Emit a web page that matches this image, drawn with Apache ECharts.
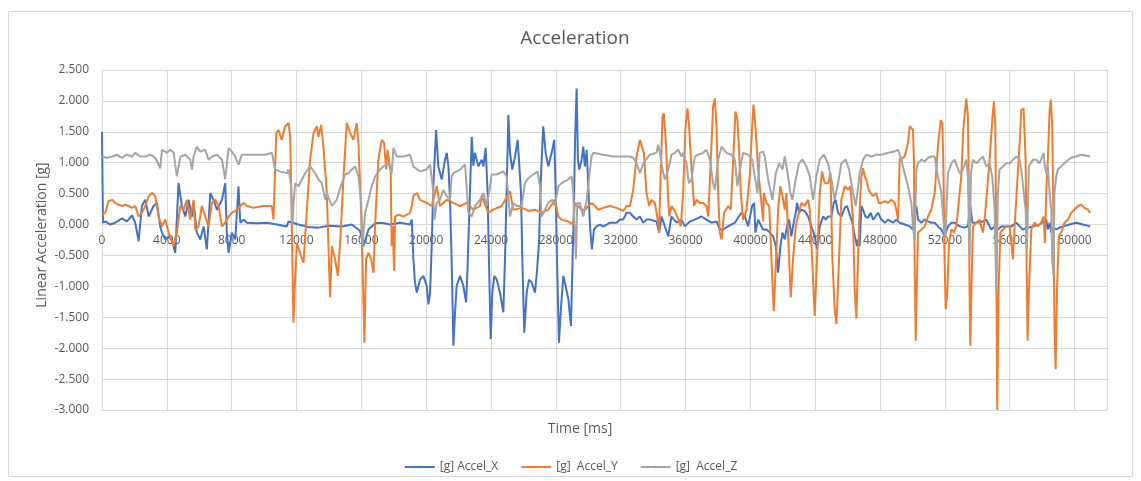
<!DOCTYPE html>
<html>
<head>
<meta charset="utf-8">
<script src="https://cdn.jsdelivr.net/npm/echarts@6/dist/echarts.min.js"></script>
<style>html,body{margin:0;padding:0;background:#fff;}#c{width:1141px;height:481px;}</style>
</head>
<body>
<div id="c"></div>
<script>
// Time [ms], acceleration [g] pairs
const accelX = [[0,1.50],[60,0.03],[200,0.05],[510,0.00],[820,0.03],[1230,0.10],[1540,0.05],[1850,0.15],[2050,0.03],[2260,-0.27],[2460,0.30],[2670,0.40],[2880,0.13],[3180,0.30],[3390,0.35],[3590,-0.03],[3700,-0.13],[3900,-0.24],[4110,-0.20],[4310,-0.24],[4520,-0.46],[4720,0.67],[4930,0.30],[5140,0.13],[5340,0.40],[5550,0.13],[5650,0.35],[5850,-0.13],[6060,-0.24],[6270,-0.03],[6470,-0.40],[6680,0.51],[6880,0.40],[7090,0.24],[7400,0.40],[7600,0.67],[7700,-0.13],[7810,-0.46],[8010,-0.13],[8220,-0.24],[8420,0.62],[8530,0.03],[8730,0.08],[8940,0.03],[9550,0.02],[10170,0.03],[10790,0.00],[11400,-0.03],[11500,0.05],[12120,0.00],[12740,-0.04],[13350,-0.05],[13970,-0.02],[14790,-0.03],[15410,0.00],[15920,-0.10],[16130,-0.35],[16440,-0.08],[16850,0.02],[17260,0.03],[17770,0.00],[18390,0.03],[19000,0.00],[19110,0.08],[19210,-0.56],[19310,-0.94],[19420,-1.10],[19620,-0.89],[19830,-0.83],[20030,-0.99],[20140,-1.29],[20240,-1.10],[20340,-0.35],[20440,0.62],[20610,1.53],[20750,0.94],[20960,0.73],[21160,1.05],[21270,1.16],[21370,0.94],[21470,0.40],[21570,-0.56],[21680,-1.96],[21780,-1.42],[21880,-0.99],[22090,-0.83],[22290,-0.99],[22460,-1.26],[22540,-0.78],[22700,0.51],[22810,1.42],[22910,0.95],[23010,1.16],[23220,0.94],[23420,1.05],[23530,0.94],[23670,1.24],[23790,0.51],[23870,-0.56],[23980,-1.85],[24080,-1.10],[24200,-0.83],[24350,-0.89],[24550,-1.10],[24760,-1.42],[24860,-0.56],[24960,0.51],[25070,1.77],[25170,1.16],[25310,0.89],[25480,1.10],[25640,1.37],[25720,1.05],[25850,0.51],[25930,-0.56],[26050,-1.75],[26200,-1.10],[26340,-0.89],[26510,-0.94],[26710,-1.10],[26810,-0.83],[26960,-0.30],[27080,0.78],[27220,1.59],[27370,1.16],[27530,0.94],[27740,1.16],[27900,1.37],[27980,0.62],[28070,-0.56],[28190,-1.91],[28310,-1.37],[28460,-0.83],[28600,-0.99],[28770,-1.21],[28930,-1.64],[29030,-0.56],[29110,0.24],[29180,1.32],[29280,2.20],[29360,1.05],[29440,0.89],[29590,1.05],[29690,1.26],[29790,0.94],[29900,1.21],[30000,0.62],[30100,0.00],[30220,-0.40],[30350,-0.08],[30510,-0.03],[30720,0.00],[30920,-0.03],[31130,0.00],[31330,0.03],[31740,0.03],[31950,0.08],[32160,0.08],[32360,0.19],[32570,0.19],[32770,0.13],[32980,0.08],[33180,0.13],[33390,0.03],[33590,0.08],[33800,0.08],[34210,0.05],[34370,-0.13],[34520,0.13],[34720,-0.03],[34930,-0.19],[35130,0.13],[35440,0.03],[35750,0.08],[35960,-0.03],[36260,0.05],[36570,0.08],[36980,0.13],[37290,0.08],[37600,0.03],[37910,0.05],[38110,-0.08],[38320,-0.08],[38630,-0.03],[39040,0.03],[39290,0.13],[39450,0.19],[39660,0.13],[39860,-0.03],[40110,0.30],[40230,0.35],[40310,-0.13],[40480,0.08],[40680,-0.03],[40790,-0.08],[40990,-0.08],[41200,-0.13],[41400,-0.19],[41570,-0.35],[41710,-0.78],[41850,-0.35],[41980,-0.13],[42120,-0.24],[42260,-0.03],[42390,0.08],[42530,-0.19],[42630,-0.03],[42800,0.19],[42880,0.35],[43000,0.19],[43150,0.24],[43350,0.22],[43560,0.13],[43760,-0.03],[43970,-0.19],[44110,-0.40],[44280,-0.03],[44480,0.13],[44650,0.08],[44790,0.13],[45000,0.13],[45140,0.35],[45260,0.40],[45410,0.19],[45610,0.13],[45820,0.27],[45960,0.30],[46090,0.19],[46290,0.03],[46440,-0.19],[46580,-0.35],[46640,-0.24],[46740,-0.35],[46850,0.30],[46950,0.24],[47090,0.13],[47260,0.11],[47420,0.19],[47570,0.08],[47710,0.13],[47870,0.19],[48080,0.08],[48290,0.03],[48490,0.08],[48800,0.03],[49000,0.08],[49210,0.03],[49520,0.00],[49830,-0.03],[50030,-0.08],[50130,0.13],[50240,0.30],[50340,0.08],[50550,0.03],[50750,0.08],[50960,0.05],[51160,0.03],[51370,0.03],[51570,-0.03],[51780,-0.08],[51980,-0.19],[52190,-0.03],[52400,0.03],[52600,0.03],[52910,-0.03],[53220,-0.05],[53420,-0.03],[53570,0.30],[53690,0.03],[53940,0.03],[54350,0.05],[54550,0.08],[54650,0.03],[54860,-0.08],[55070,-0.03],[55270,-0.08],[55480,-0.03],[55790,-0.03],[56090,-0.03],[56400,0.03],[56610,-0.03],[56810,-0.08],[57120,-0.05],[57430,-0.03],[57840,0.00],[58250,0.08],[58350,-0.08],[58460,0.03],[58560,-0.13],[58660,-0.05],[58870,-0.08],[59070,-0.05],[59280,-0.03],[59690,0.00],[60100,0.03],[60510,0.00],[60960,-0.03]];

const accelY = [[0,0.16],[200,0.19],[410,0.38],[620,0.40],[820,0.35],[1030,0.32],[1230,0.30],[1440,0.32],[1640,0.30],[1850,0.27],[2050,0.30],[2260,0.13],[2460,0.19],[2670,0.30],[2880,0.46],[3080,0.51],[3290,0.46],[3490,0.13],[3700,-0.03],[3900,0.08],[4110,-0.13],[4420,-0.35],[4620,-0.13],[4830,0.30],[5030,0.24],[5240,0.40],[5440,0.08],[5650,0.40],[5750,-0.08],[5960,-0.03],[6160,0.30],[6370,0.13],[6570,-0.03],[6780,0.35],[6980,0.40],[7190,0.30],[7400,-0.03],[7600,0.03],[7810,0.13],[8010,0.19],[8220,0.22],[8530,0.30],[8730,0.35],[8940,0.30],[9350,0.27],[9960,0.30],[10480,0.30],[10580,0.08],[10750,1.48],[10890,1.53],[11090,1.37],[11300,1.59],[11510,1.64],[11610,1.42],[11710,0.00],[11810,-1.59],[11920,-0.83],[12020,-0.30],[12220,-0.46],[12430,-0.62],[12640,0.24],[12840,1.05],[13050,1.48],[13250,1.59],[13350,1.42],[13520,1.61],[13660,1.26],[13870,0.51],[13970,-0.35],[14070,-1.18],[14180,-0.35],[14380,-0.56],[14550,-0.83],[14690,-0.30],[14900,0.78],[15100,1.64],[15310,1.48],[15510,1.37],[15720,1.64],[15820,1.32],[15980,0.24],[16090,-0.83],[16190,-1.91],[16290,-0.56],[16440,-0.46],[16600,-0.56],[16750,-0.78],[16850,0.00],[17050,1.05],[17260,1.37],[17400,1.32],[17530,0.89],[17610,1.21],[17730,0.99],[17810,0.89],[17870,-0.35],[17940,-0.03],[18020,-0.75],[18080,0.13],[18290,0.16],[18590,0.13],[19000,0.19],[19110,0.30],[19210,0.46],[19420,0.51],[19620,0.40],[20030,0.35],[20340,0.30],[20440,0.40],[20650,0.62],[20850,0.30],[21270,0.40],[21680,0.35],[22090,0.30],[22500,0.35],[22910,0.24],[23320,0.30],[23420,0.46],[23830,0.19],[24140,0.24],[24660,0.30],[25170,0.54],[25370,0.24],[25890,0.27],[26300,0.22],[26710,0.24],[27120,0.19],[27530,0.24],[27940,0.40],[28150,0.13],[28350,0.08],[28770,0.05],[29070,0.00],[29180,0.35],[29380,0.30],[29590,0.24],[29790,0.24],[30000,0.30],[30200,0.35],[30410,0.30],[30610,0.24],[30920,0.27],[31330,0.30],[31740,0.27],[32160,0.22],[32360,0.30],[32570,0.30],[32770,0.56],[32980,1.10],[33180,1.37],[33290,1.40],[33430,1.16],[33590,0.51],[33760,0.30],[33900,0.40],[34110,0.35],[34250,0.13],[34370,-0.13],[34460,0.78],[34580,1.75],[34660,1.80],[34790,1.32],[34930,0.40],[35000,0.13],[35130,0.30],[35340,0.22],[35550,0.08],[35710,-0.03],[35850,0.51],[36000,1.59],[36120,1.88],[36220,1.59],[36370,0.89],[36530,0.30],[36680,0.40],[36880,0.35],[37090,0.35],[37290,0.30],[37400,0.13],[37560,1.05],[37700,1.91],[37810,2.04],[37910,1.59],[38010,0.51],[38110,-0.13],[38220,-0.24],[38380,0.19],[38630,0.30],[38790,0.24],[38940,1.05],[39080,1.83],[39200,1.69],[39290,1.26],[39410,0.51],[39550,0.08],[39760,0.24],[39960,0.78],[40110,1.59],[40190,1.94],[40310,1.59],[40480,0.89],[40680,0.35],[40790,0.05],[40830,0.51],[40990,0.35],[41160,0.30],[41300,-0.56],[41440,-1.40],[41570,-0.67],[41710,0.24],[41850,0.62],[41980,0.46],[42120,0.24],[42220,0.51],[42390,-0.56],[42490,-1.18],[42630,-0.56],[42800,-0.03],[42940,0.13],[43150,0.35],[43350,0.30],[43560,0.40],[43660,0.24],[43810,-0.56],[43970,-1.48],[44110,-0.56],[44280,0.51],[44420,0.86],[44590,0.67],[44790,0.67],[44940,0.83],[45060,-0.56],[45200,-1.37],[45310,-1.61],[45470,-0.56],[45610,0.40],[45820,0.62],[46030,0.56],[46170,0.62],[46330,0.08],[46440,-1.10],[46540,-1.52],[46640,-0.56],[46740,0.24],[46850,0.78],[46950,0.91],[47050,0.78],[47150,0.73],[47300,0.56],[47420,0.51],[47570,0.46],[47770,0.51],[47920,0.35],[48080,0.35],[48290,0.38],[48490,0.35],[48700,0.40],[48900,0.35],[49000,0.24],[49110,0.08],[49210,1.05],[49310,1.08],[49520,1.10],[49720,1.32],[49830,1.59],[49930,1.61],[50030,1.53],[50090,1.05],[50130,-0.56],[50200,-1.88],[50260,-1.10],[50340,-0.13],[50550,-0.08],[50750,-0.03],[50960,0.13],[51160,0.24],[51370,0.51],[51570,1.26],[51740,1.69],[51840,1.64],[51900,1.05],[51980,-0.56],[52050,-1.37],[52150,-1.10],[52250,-0.30],[52400,-0.08],[52560,-0.13],[52700,-0.03],[52810,0.24],[53010,0.78],[53150,1.59],[53320,2.04],[53420,1.75],[53480,0.51],[53520,-1.10],[53570,-1.96],[53630,-1.10],[53730,-0.03],[53940,0.03],[54140,0.08],[54240,-0.03],[54350,-0.13],[54450,0.08],[54590,0.51],[54760,1.05],[54920,1.69],[55020,1.99],[55110,1.59],[55170,-0.56],[55230,-3.00],[55310,-1.10],[55420,-0.13],[55580,-0.08],[55790,-0.03],[55990,-0.03],[56200,-0.56],[56300,-0.03],[56400,0.40],[56610,1.32],[56710,1.85],[56850,1.88],[56980,1.05],[57040,-0.56],[57100,-1.88],[57180,-1.10],[57330,-0.08],[57530,0.03],[57740,-0.03],[57940,0.03],[58090,0.13],[58170,-0.30],[58250,0.51],[58350,1.05],[58460,1.85],[58540,2.02],[58620,1.59],[58700,-0.03],[58760,-1.64],[58830,-2.34],[58910,-1.10],[59030,-0.19],[59170,-0.13],[59380,0.03],[59590,0.08],[59790,0.19],[60000,0.24],[60200,0.30],[60410,0.32],[60610,0.27],[60820,0.24],[60960,0.19]];

const accelZ = [[0,1.10],[310,1.08],[620,1.10],[920,1.13],[1230,1.08],[1540,1.13],[1850,1.10],[2050,1.16],[2360,1.10],[2670,1.10],[2980,1.13],[3290,1.08],[3590,0.91],[3700,1.21],[4010,1.16],[4210,1.21],[4420,1.16],[4620,0.78],[4830,1.10],[5140,1.13],[5440,1.05],[5550,0.89],[5650,1.10],[5850,1.26],[6060,1.18],[6370,1.21],[6570,1.05],[6780,1.10],[7090,1.13],[7400,1.05],[7600,0.73],[7810,1.24],[8010,1.18],[8220,1.10],[8420,0.97],[8630,1.13],[8940,1.13],[9550,1.13],[10070,1.13],[10480,1.16],[10680,0.89],[10990,0.86],[11400,0.83],[11510,0.89],[11670,0.62],[11750,0.00],[11830,0.40],[11920,0.67],[12120,0.62],[12530,0.83],[12840,0.94],[13150,0.83],[13350,0.73],[13560,0.67],[13770,0.40],[13870,0.51],[14180,0.30],[14480,0.40],[14790,0.67],[15000,0.81],[15200,0.83],[15410,0.89],[15620,0.94],[15820,0.78],[15980,0.40],[16070,-0.35],[16230,0.19],[16440,0.40],[16640,0.62],[16850,0.78],[17160,0.89],[17360,0.94],[17670,0.99],[17870,0.83],[17980,1.24],[18180,1.10],[18590,1.10],[19000,1.13],[19210,0.94],[19620,0.86],[20030,0.89],[20240,0.97],[20400,0.62],[20510,0.08],[20650,0.35],[20850,0.40],[21060,0.56],[21270,0.46],[21470,0.40],[21570,0.78],[21680,0.83],[22090,0.89],[22400,0.97],[22600,0.19],[22810,0.13],[23010,0.30],[23320,0.40],[23530,0.51],[23730,0.30],[23940,0.62],[24040,0.81],[24350,0.81],[24760,0.86],[24960,0.78],[25070,0.46],[25170,0.13],[25370,0.35],[25580,0.30],[25890,0.30],[26090,0.67],[26300,0.75],[26610,0.81],[26870,0.86],[27020,0.62],[27120,0.13],[27330,0.24],[27530,0.35],[27780,0.40],[27940,0.30],[28150,0.62],[28350,0.67],[28770,0.73],[28970,0.78],[29070,0.51],[29240,-0.56],[29320,0.35],[29480,0.35],[29690,0.13],[29900,0.40],[30060,0.78],[30200,1.10],[30310,1.16],[30920,1.13],[31540,1.10],[32160,1.10],[32570,1.10],[32770,1.08],[32980,0.99],[33180,0.83],[33390,0.99],[33800,1.13],[34210,1.16],[34310,1.29],[34420,1.16],[34580,0.89],[34720,0.73],[34870,0.83],[35030,0.99],[35130,1.13],[35340,1.16],[35550,1.21],[35750,1.10],[35850,1.16],[36060,0.99],[36200,0.67],[36370,0.73],[36570,1.10],[36780,1.13],[37090,1.16],[37290,1.21],[37500,1.05],[37700,0.67],[37810,0.56],[38010,1.05],[38220,1.26],[38530,1.16],[38830,1.13],[39040,1.05],[39200,0.62],[39350,0.89],[39550,1.16],[39860,1.13],[40110,1.05],[40270,0.78],[40440,0.51],[40580,1.16],[40790,1.18],[40890,1.10],[41090,0.73],[41360,0.40],[41570,0.83],[41770,0.99],[41980,0.89],[42120,1.10],[42260,0.89],[42470,0.51],[42590,0.40],[42800,0.73],[43000,0.99],[43210,1.05],[43460,0.94],[43660,0.78],[43870,0.40],[44070,0.78],[44280,1.05],[44530,1.13],[44790,0.99],[45000,0.73],[45200,0.40],[45410,0.67],[45610,0.99],[45880,1.05],[46090,0.89],[46330,0.51],[46500,0.30],[46600,0.51],[46740,0.83],[46950,1.05],[47150,1.13],[47460,1.10],[47770,1.13],[48080,1.13],[48490,1.16],[48900,1.18],[49110,1.21],[49310,1.05],[49520,0.83],[49720,0.62],[49930,0.35],[50030,-0.03],[50130,-0.27],[50240,0.89],[50340,0.99],[50550,1.05],[50750,1.02],[50960,1.08],[51160,1.10],[51370,1.10],[51570,0.78],[51780,0.51],[51940,-0.03],[52030,-0.19],[52190,0.83],[52400,0.99],[52600,1.05],[52700,1.05],[52910,0.83],[53110,0.89],[53320,1.05],[53420,0.78],[53520,-0.56],[53610,0.83],[53730,1.05],[53940,0.99],[54140,1.05],[54350,1.10],[54550,0.94],[54760,0.99],[54920,0.78],[55070,0.24],[55170,-1.10],[55270,0.51],[55370,0.89],[55580,0.94],[55790,0.99],[55990,0.99],[56200,1.05],[56400,1.10],[56610,1.05],[56710,0.89],[56810,0.89],[56980,0.24],[57060,-0.40],[57180,0.94],[57430,1.05],[57630,1.05],[57840,0.99],[58090,1.16],[58170,0.94],[58250,0.83],[58350,0.94],[58460,0.51],[58560,0.24],[58620,-0.56],[58700,-0.83],[58760,0.51],[58870,0.78],[58970,0.89],[59170,0.94],[59480,1.02],[59790,1.08],[60100,1.10],[60410,1.13],[60610,1.12],[60960,1.10]];

const seriesNames = ['[g] Accel_X', '[g]  Accel_Y', '[g]  Accel_Z'];
const seriesColors = ['#4472C4', '#ED7D31', '#A5A5A5'];
const xMin = 0, xMax = 62000, xStep = 4000;
const yMin = -3, yMax = 2.5, yStep = 0.5;

const FONT = '"Open Sans", "Liberation Sans", sans-serif';
const TXT = '#595959';
const GRID = '#d9d9d9';

const gridTop = 70, gridBottom = 71;
const plotH = 481 - gridTop - gridBottom;
// the horizontal axis sits where y = 0 (Excel style); move it up from the bottom edge
const zeroOffset = -plotH * (0 - yMin) / (yMax - yMin);

const chart = echarts.init(document.getElementById('c'), null, {renderer: 'canvas'});
const allData = [accelX, accelY, accelZ];
chart.setOption({
  animation: false,
  backgroundColor: '#ffffff',
  textStyle: {fontFamily: FONT},
  grid: {left: 102, right: 34, top: gridTop, bottom: gridBottom, containLabel: false},
  legend: {
    data: seriesNames,
    left: 'center', top: 456,
    itemWidth: 30, itemHeight: 3, itemGap: 22,
    textStyle: {color: TXT, fontSize: 12, fontFamily: FONT}
  },
  xAxis: {
    type: 'value', min: xMin, max: xMax, interval: xStep,
    position: 'bottom', offset: zeroOffset,
    axisLine: {show: true, onZero: false, lineStyle: {color: GRID, width: 1}},
    axisTick: {show: false},
    splitLine: {show: true, lineStyle: {color: GRID, width: 1}},
    axisLabel: {color: TXT, fontSize: 12, fontFamily: FONT, margin: 10, showMaxLabel: false,
      formatter: v => String(v)}
  },
  yAxis: {
    type: 'value', min: yMin, max: yMax, interval: yStep,
    axisLine: {show: true, lineStyle: {color: GRID, width: 1}},
    axisTick: {show: false},
    splitLine: {show: true, lineStyle: {color: GRID, width: 1}},
    axisLabel: {color: TXT, fontSize: 12, fontFamily: FONT, margin: 13,
      formatter: v => v.toFixed(3)}
  },
  graphic: [
    {type: 'rect', shape: {x: 8.5, y: 11.5, width: 1124, height: 465}, style: {fill: 'none', stroke: GRID, lineWidth: 1}, silent: true, z: -10},
    {type: 'text', x: 575, y: 39, style: {text: 'Acceleration', fill: TXT, font: '19px ' + FONT, textAlign: 'center', textVerticalAlign: 'middle'}},
    {type: 'text', x: 580, y: 429, style: {text: 'Time [ms]', fill: TXT, font: '14px ' + FONT, textAlign: 'center', textVerticalAlign: 'middle'}},
    {type: 'text', x: 42, y: 235, rotation: Math.PI / 2, style: {text: 'Linear Acceleration [g]', fill: TXT, font: '14px ' + FONT, textAlign: 'center', textVerticalAlign: 'middle'}}
  ],
  series: allData.map((d, i) => ({
    name: seriesNames[i], type: 'line', data: d,
    symbol: 'none', smooth: false,
    lineStyle: {color: seriesColors[i], width: 2},
    itemStyle: {color: seriesColors[i]}
  }))
});
</script>
</body>
</html>
